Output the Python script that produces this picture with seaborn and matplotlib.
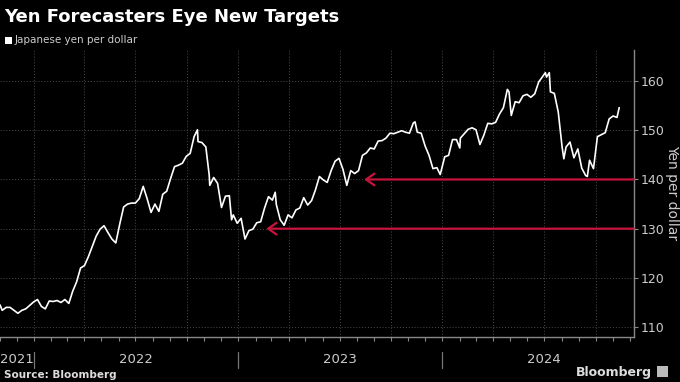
import pandas as pd
import numpy as np
import matplotlib
matplotlib.use("Agg")
import matplotlib.pyplot as plt
import matplotlib.dates as mdates
import matplotlib.transforms as mtransforms
from matplotlib.patches import Rectangle
import seaborn as sns

# data (USD/JPY, yen per dollar)
dates = [
    "2021-11-01", "2021-11-05", "2021-11-12", "2021-11-19", "2021-11-26", "2021-12-03", "2021-12-10",
    "2021-12-17", "2021-12-24", "2021-12-31",
    "2022-01-07", "2022-01-14", "2022-01-21", "2022-01-28", "2022-02-04", "2022-02-11", "2022-02-18",
    "2022-02-25", "2022-03-04", "2022-03-11", "2022-03-18", "2022-03-25", "2022-04-01", "2022-04-08",
    "2022-04-15", "2022-04-22", "2022-04-29", "2022-05-06", "2022-05-13", "2022-05-20", "2022-05-27",
    "2022-06-03", "2022-06-10", "2022-06-17", "2022-06-24", "2022-07-01", "2022-07-08", "2022-07-15",
    "2022-07-22", "2022-07-29", "2022-08-05", "2022-08-12", "2022-08-19", "2022-08-26", "2022-09-02",
    "2022-09-09", "2022-09-16", "2022-09-23", "2022-09-30", "2022-10-07", "2022-10-14", "2022-10-20",
    "2022-10-21", "2022-10-28", "2022-11-04", "2022-11-10", "2022-11-11", "2022-11-18", "2022-11-25",
    "2022-12-02", "2022-12-09", "2022-12-16", "2022-12-20", "2022-12-23", "2022-12-30",
    "2023-01-06", "2023-01-13", "2023-01-20", "2023-01-27", "2023-02-03", "2023-02-10", "2023-02-17",
    "2023-02-24", "2023-03-03", "2023-03-08", "2023-03-10", "2023-03-17", "2023-03-24", "2023-03-31",
    "2023-04-07", "2023-04-14", "2023-04-21", "2023-04-28", "2023-05-05", "2023-05-12", "2023-05-19",
    "2023-05-26", "2023-06-02", "2023-06-09", "2023-06-16", "2023-06-23", "2023-06-30", "2023-07-07",
    "2023-07-14", "2023-07-21", "2023-07-28", "2023-08-04", "2023-08-11", "2023-08-18", "2023-08-25",
    "2023-09-01", "2023-09-08", "2023-09-15", "2023-09-22", "2023-09-29", "2023-10-06", "2023-10-13",
    "2023-10-20", "2023-10-27", "2023-11-03", "2023-11-10", "2023-11-13", "2023-11-17", "2023-11-24",
    "2023-12-01", "2023-12-08", "2023-12-15", "2023-12-22", "2023-12-28",
    "2024-01-05", "2024-01-12", "2024-01-19", "2024-01-26", "2024-02-01", "2024-02-02", "2024-02-09",
    "2024-02-16", "2024-02-23", "2024-03-01", "2024-03-08", "2024-03-15", "2024-03-22", "2024-03-29",
    "2024-04-05", "2024-04-12", "2024-04-19", "2024-04-26", "2024-04-29", "2024-05-03", "2024-05-10",
    "2024-05-17", "2024-05-24", "2024-05-31", "2024-06-07", "2024-06-14", "2024-06-21", "2024-06-28",
    "2024-07-03", "2024-07-05", "2024-07-10", "2024-07-12", "2024-07-19", "2024-07-26", "2024-08-02",
    "2024-08-05", "2024-08-09", "2024-08-16", "2024-08-23", "2024-08-30", "2024-09-06", "2024-09-13",
    "2024-09-16", "2024-09-20", "2024-09-27", "2024-10-04", "2024-10-11", "2024-10-18", "2024-10-25",
    "2024-11-01", "2024-11-08", "2024-11-12",
]
yen = [
    114.5, 113.4, 114.0, 114.0, 113.4, 112.8, 113.4,
    113.7, 114.4, 115.1,
    115.6, 114.2, 113.7, 115.3, 115.2, 115.4, 115.0,
    115.6, 114.8, 117.3, 119.2, 122.0, 122.5, 124.3,
    126.4, 128.5, 129.9, 130.6, 129.2, 127.9, 127.1,
    130.9, 134.4, 135.0, 135.2, 135.2, 136.1, 138.6,
    136.1, 133.3, 135.0, 133.5, 137.0, 137.6, 140.2,
    142.6, 142.9, 143.3, 144.7, 145.3, 148.7, 150.1,
    147.7, 147.5, 146.6, 140.9, 138.8, 140.4, 139.2,
    134.3, 136.6, 136.7, 131.8, 132.8, 131.1,
    132.1, 127.9, 129.6, 129.9, 131.2, 131.4, 134.2,
    136.5, 135.8, 137.4, 134.9, 131.8, 130.7, 132.8,
    132.2, 133.8, 134.2, 136.3, 134.8, 135.7, 137.9,
    140.6, 139.9, 139.4, 141.8, 143.7, 144.3, 142.1,
    138.8, 141.8, 141.2, 141.8, 144.9, 145.4, 146.4,
    146.2, 147.8, 147.9, 148.4, 149.4, 149.3, 149.6,
    149.9, 149.6, 149.4, 151.5, 151.7, 149.6, 149.4,
    146.8, 144.9, 142.2, 142.4, 141.0,
    144.6, 144.9, 148.1, 148.1, 146.4, 148.4, 149.3,
    150.2, 150.5, 150.1, 147.1, 149.0, 151.4, 151.3,
    151.6, 153.3, 154.6, 158.3, 157.8, 153.0, 155.8,
    155.6, 157.0, 157.3, 156.7, 157.4, 159.8, 160.9,
    161.7, 160.8, 161.7, 157.8, 157.5, 153.7, 146.5,
    144.2, 146.6, 147.6, 144.4, 146.2, 142.3, 140.8,
    140.6, 143.9, 142.2, 148.7, 149.1, 149.5, 152.3,
    152.9, 152.6, 154.6,
]

# forecast targets marked with arrows
targets = [140, 130]
target_from = ["2023-08-14", "2023-02-20"]

year_labels = ["2021", "2022", "2023", "2024"]
year_mid = ["2021-12-01", "2022-07-02", "2023-07-02", "2024-07-01"]
year_breaks = ["2022-01-01", "2023-01-01", "2024-01-01"]

df = pd.DataFrame({"date": pd.to_datetime(dates), "yen": yen})

sns.set_theme(style="dark")
plt.rcParams["font.family"] = ["DejaVu Sans"]

fig = plt.figure(figsize=(6.8, 3.82), dpi=100, facecolor="black")
ax = fig.add_axes([0.0, 0.118, 0.932, 0.751])
ax.set_facecolor("black")

sns.lineplot(data=df, x="date", y="yen", ax=ax, color="white", linewidth=1.2)

x0 = pd.Timestamp("2021-11-01")
x1 = pd.Timestamp("2024-12-08")
ax.set_xlim(x0, x1)
ax.set_ylim(108, 166.3)

for t, d in zip(targets, target_from):
    ax.annotate("", xy=(pd.Timestamp(d), t), xytext=(x1, t),
                arrowprops=dict(arrowstyle="->,head_length=0.5,head_width=0.35",
                                color="#c8143c", lw=1.6, shrinkA=0, shrinkB=0))

# axes, ticks, grid
ax.yaxis.tick_right()
ax.set_yticks([110, 120, 130, 140, 150, 160])
ax.xaxis.set_major_locator(mdates.MonthLocator(bymonth=[1, 4, 7, 10]))
ax.xaxis.set_minor_locator(mdates.MonthLocator())
ax.xaxis.set_major_formatter(plt.NullFormatter())
ax.tick_params(axis="x", which="both", length=3, width=0.8, color="#888888", bottom=True)
ax.tick_params(axis="y", length=3, width=0.8, color="#888888", right=True, left=False,
               labelcolor="#cccccc", labelsize=9, pad=2)
ax.grid(True, which="major", color="#4a4a4a", linestyle=(0, (1, 2)), linewidth=0.7)

for s in ["top", "left"]:
    ax.spines[s].set_visible(False)
for s in ["bottom", "right"]:
    ax.spines[s].set_visible(True)
    ax.spines[s].set_color("#888888")
    ax.spines[s].set_linewidth(1)

ax.set_xlabel("")
ax.set_ylabel("")
fig.text(672.5 / 680, 1 - 193 / 382, "Yen per dollar", color="#cccccc", fontsize=10,
         rotation=270, ha="center", va="center")

trans = mtransforms.blended_transform_factory(ax.transData, ax.transAxes)
for lab, d in zip(year_labels, year_mid):
    ax.text(pd.Timestamp(d), -0.08, lab, transform=trans, ha="center", va="center",
            color="#cccccc", fontsize=9.5)
for d in year_breaks:
    ax.plot([pd.Timestamp(d)] * 2, [-0.052, -0.108], transform=trans, color="#777777",
            lw=0.9, clip_on=False)

# titles and footer
fig.text(0.006, 0.955, "Yen Forecasters Eye New Targets", color="white", fontsize=13,
         fontweight="bold", ha="left", va="center")
fig.patches.append(Rectangle((0.008, 0.885), 0.01, 0.018, transform=fig.transFigure,
                             facecolor="white", edgecolor="none"))
fig.text(0.022, 0.894, "Japanese yen per dollar", color="#cccccc", fontsize=7.5,
         ha="left", va="center")
fig.text(0.006, 0.018, "Source: Bloomberg", color="#dddddd", fontsize=7.5,
         fontweight="bold", ha="left", va="center")
fig.text(0.958, 0.025, "Bloomberg", color="#dddddd", fontsize=9, fontweight="bold",
         ha="right", va="center")
fig.patches.append(Rectangle((0.966, 0.012), 0.016, 0.03, transform=fig.transFigure,
                             facecolor="#bbbbbb", edgecolor="none"))

fig.savefig("out.png", dpi=100, facecolor="black")
